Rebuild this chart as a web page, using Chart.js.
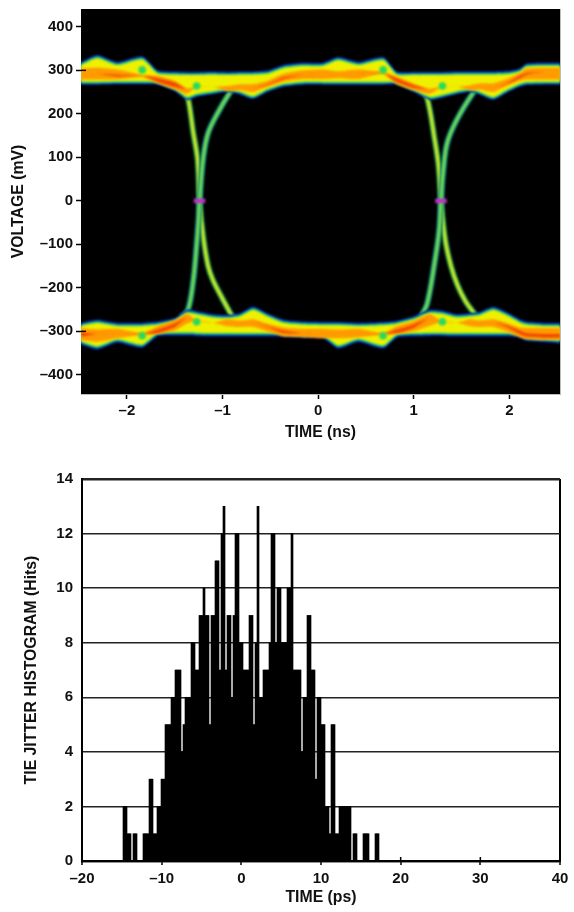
<!DOCTYPE html>
<html><head><meta charset="utf-8">
<style>html,body{margin:0;padding:0;background:#fff}canvas{position:absolute;left:0;display:block}</style>
<script src="https://cdn.jsdelivr.net/npm/chart.js@4/dist/chart.umd.min.js"></script>
</head><body>
<canvas id="eye" width="574" height="450" style="top:0"></canvas>
<canvas id="hist" width="574" height="462" style="top:450px"></canvas>
<script>
const voltageTicks=[-400,-300,-200,-100,0,100,200,300,400];
const timeNsTicks=[-2,-1,0,1,2];
const timePsTicks=[-20,-10,0,10,20,30,40];
const hitsTicks=[0,2,4,6,8,10,12,14];

const eyeT=[-2.48,-2.31,-2.1,-1.84,-1.68,-1.5,-1.37,-1.27,-1.1,-.95,-.81,-.68,-.53,-.36,-.15,.05,.21,.42,.68,.82,1.0,1.17,1.3,1.45,1.59,1.69,1.83,1.97,2.11,2.18,2.35,2.53];
const topBlueHi=[320,336,320,333,301,298,297,297,298,297,298,298,300,313,318,318,331,320,331,298,297,297,297,298,298,298,298,299,305,316,318,318];
const topBlueLo=[267,267,268,268,267,252,232,239,245,250,244,234,250,262,267,267,267,267,267,267,250,232,237,245,250,244,232,248,262,266,267,267];
const topGreenHi=[316,332,316,329,297,294,293,293,294,293,294,294,296,309,314,314,327,316,327,294,293,293,293,294,294,294,294,295,301,312,314,314];
const topGreenLo=[270,270,271,271,270,255,235,242,248,253,247,237,253,265,270,270,270,270,270,270,253,235,240,248,253,247,235,251,265,269,270,270];
const topYellowHi=[312,328,312,325,293,290,289,289,290,289,290,290,292,305,310,310,323,312,323,290,289,289,289,290,290,290,290,291,297,308,310,310];
const topYellowLo=[274,274,275,275,274,259,239,246,252,257,251,241,257,269,274,274,274,274,274,274,257,239,244,252,257,251,239,255,269,273,274,274];
const topOrangeHi=[304,306,302,290,287,276,258,262,262,264,268,268,276,292,300,302,298,302,296,286,270,258,262,262,266,270,270,280,294,304,306,306];
const topOrangeLo=[279,279,279,284,270,256,246,262,262,252,254,250,262,274,280,280,282,280,292,268,254,246,262,262,254,256,250,264,276,279,279,279];
const topRedHi=[294,292,290,288,282,272,256,262,262,262,262,260,268,284,290,292,290,292,292,282,266,256,262,262,262,262,260,270,288,294,296,296];
const topRedLo=[294,292,286,288,274,262,256,262,262,262,262,260,266,280,290,292,290,292,292,274,260,256,262,262,262,262,260,268,282,290,296,296];
const botBlueHi=[-280,-273,-280,-280,-277,-269,-250,-253,-260,-262,-257,-243,-258,-273,-277,-278,-278,-280,-278,-275,-265,-250,-252,-260,-258,-255,-243,-255,-272,-277,-280,-280];
const botBlueLo=[-331,-342,-326,-338,-312,-310,-310,-311,-312,-312,-312,-312,-312,-313,-315,-316,-340,-325,-340,-315,-312,-311,-311,-312,-312,-312,-312,-312,-315,-322,-325,-328];
const botGreenHi=[-284,-277,-284,-284,-281,-273,-254,-257,-264,-266,-261,-247,-262,-277,-281,-282,-282,-284,-282,-279,-269,-254,-256,-264,-262,-259,-247,-259,-276,-281,-284,-284];
const botGreenLo=[-327,-338,-322,-334,-308,-306,-306,-307,-308,-308,-308,-308,-308,-309,-311,-312,-336,-321,-336,-311,-308,-307,-307,-308,-308,-308,-308,-308,-311,-318,-321,-324];
const botYellowHi=[-288,-281,-288,-288,-285,-277,-258,-261,-268,-270,-265,-251,-266,-281,-285,-286,-286,-288,-286,-283,-273,-258,-260,-268,-266,-263,-251,-263,-280,-285,-288,-288];
const botYellowLo=[-323,-334,-318,-330,-304,-302,-302,-303,-304,-304,-304,-304,-304,-305,-307,-308,-332,-317,-332,-307,-304,-303,-303,-304,-304,-304,-304,-304,-307,-314,-317,-320];
const botOrangeHi=[-292,-295,-294,-304,-288,-274,-260,-275,-280,-272,-275,-272,-282,-291,-294,-294,-296,-294,-304,-288,-276,-260,-278,-280,-272,-275,-272,-280,-291,-292,-292,-292];
const botOrangeLo=[-320,-324,-316,-308,-306,-298,-282,-275,-280,-288,-290,-290,-300,-312,-314,-316,-316,-314,-308,-306,-300,-287,-278,-280,-288,-290,-290,-300,-314,-318,-320,-320];
const botRedHi=[-302,-306,-304,-306,-296,-282,-268,-275,-280,-280,-280,-280,-288,-298,-304,-304,-306,-304,-306,-296,-284,-270,-278,-280,-280,-280,-280,-286,-298,-304,-306,-306];
const botRedLo=[-312,-306,-304,-306,-304,-290,-268,-275,-280,-280,-280,-280,-290,-304,-304,-304,-306,-304,-306,-304,-292,-270,-278,-280,-280,-280,-280,-290,-306,-312,-314,-314];

const fall1T=[-1.43,-1.37,-1.305,-1.26,-1.24,-1.2,-1.15,-1.1,-1.0,-.92,-.87];
const fall1V=[262,245,156,94,0,-85,-150,-182,-225,-257,-275];
const rise1T=[-1.43,-1.36,-1.305,-1.27,-1.25,-1.24,-1.2,-1.15,-1.05,-.92,-.85];
const rise1V=[-268,-250,-182,-100,-40,0,101,156,202,250,268];
const fall2T=[1.07,1.14,1.22,1.26,1.285,1.33,1.39,1.46,1.54,1.62,1.68];
const fall2V=[260,237,140,80,0,-90,-150,-195,-230,-255,-272];
const rise2T=[1.07,1.14,1.22,1.265,1.285,1.31,1.35,1.45,1.62,1.7];
const rise2V=[-268,-237,-140,-70,0,71,133,186,248,268];
const crossingT=[-1.3,-1.18,1.225,1.345];
const crossingV=[0,0,0,0];
const spotT=[-1.84,-1.27,.68,1.3,-1.84,-1.27,.68,1.3];
const spotV=[301,264,301,264,-310,-278,-310,-278];
const innerTickV=[300,-300];

const histStart=-14.853;
const histStep=0.25105;
const histHits=[2,2,1,1,0,1,1,0,0,0,1,1,1,3,3,1,1,2,2,3,3,5,5,5,6,6,7,7,7,4,5,6,6,6,8,8,7,7,9,9,10,9,9,5,9,9,11,11,7,12,13,7,9,9,6,9,12,12,8,8,7,7,7,9,
9,5,8,13,6,6,7,7,7,8,12,12,8,10,10,8,8,8,10,10,12,7,7,7,7,4,6,6,9,9,7,7,3,6,6,5,5,2,2,1,5,5,1,1,2,2,2,2,2,2,0,1,1,0,0,0,1,1,1,0,0,0,1,1];

const FONT='"Liberation Sans",Arial,sans-serif';
const tickFont={family:FONT,size:15,weight:'bold'};
const titleFont={family:FONT,size:15.8,weight:'bold'};
const fmt=v=>String(v).replace('-','\u2013');
const zip=(a,b)=>a.map((x,i)=>({x,y:b[i]}));

const eyeSets=[];
function band(hi,lo,color){
  const base={pointRadius:0,borderWidth:0,tension:0.2,borderColor:color,backgroundColor:color};
  eyeSets.push({...base,data:zip(eyeT,hi),fill:'+1'});
  eyeSets.push({...base,data:zip(eyeT,lo),fill:false});
}
function curve(t,v,wide,thin){
  eyeSets.push({data:zip(t,v),pointRadius:0,borderWidth:6,borderColor:wide,tension:0.35,fill:false});
  eyeSets.push({data:zip(t,v),pointRadius:0,borderWidth:3,borderColor:thin,tension:0.35,fill:false});
}
curve(fall1T,fall1V,'#1f8a50','#d8f020');
curve(rise1T,rise1V,'#0f7f78','#78e050');
curve(fall2T,fall2V,'#1f8a50','#d8f020');
curve(rise2T,rise2V,'#0f7f78','#78e050');
band(topBlueHi,topBlueLo,'#0a2aa8');
band(topGreenHi,topGreenLo,'#12c088');
band(topYellowHi,topYellowLo,'#eef000');
band(topOrangeHi,topOrangeLo,'#ff9a00');
band(topRedHi,topRedLo,'#f04800');
band(botBlueHi,botBlueLo,'#0a2aa8');
band(botGreenHi,botGreenLo,'#12c088');
band(botYellowHi,botYellowLo,'#eef000');
band(botOrangeHi,botOrangeLo,'#ff9a00');
band(botRedHi,botRedLo,'#f04800');
eyeSets.push({data:zip(spotT,spotV),showLine:false,pointRadius:3.8,pointBorderWidth:0,pointBackgroundColor:'#2ad860',fill:false});
eyeSets.push({data:zip(crossingT.slice(0,2),crossingV.slice(0,2)),pointRadius:0,borderWidth:4.5,borderColor:'#c030c8',fill:false});
eyeSets.push({data:zip(crossingT.slice(2),crossingV.slice(2)),pointRadius:0,borderWidth:4.5,borderColor:'#c030c8',fill:false});
eyeSets.forEach((d,i)=>{d.order=-i;});

const eyePlugin={id:'eyeBg',
  beforeDraw(c){const a=c.chartArea,x=c.ctx;x.save();x.fillStyle='#000';x.fillRect(a.left,a.top,a.width,a.height);
    x.strokeStyle='#bdbdbd';x.lineWidth=1;x.beginPath();x.moveTo(a.right+.5,a.top);x.lineTo(a.right+.5,a.bottom+.5);x.stroke();x.restore();},
  beforeDatasetsDraw(c){c.ctx.save();c.ctx.filter='blur(1.1px)';},
  afterDatasetsDraw(c){c.ctx.restore();const x=c.ctx,s=c.scales.y,l=c.chartArea.left;x.save();x.strokeStyle='#000';x.lineWidth=1.5;
    innerTickV.forEach(v=>{const p=s.getPixelForValue(v);x.beginPath();x.moveTo(l,p);x.lineTo(l+5,p);x.stroke();});x.restore();}
};
const histPlugin={id:'innerTicks',afterDatasetsDraw(c){const x=c.ctx,s=c.scales.x,b=c.chartArea.bottom;x.save();x.strokeStyle='#000';x.lineWidth=1.5;
    timePsTicks.slice(1,-1).forEach(v=>{const p=s.getPixelForValue(v);x.beginPath();x.moveTo(p,b);x.lineTo(p,b-4);x.stroke();});x.restore();}};

new Chart(document.getElementById('eye'),{type:'line',data:{datasets:eyeSets},plugins:[eyePlugin],options:{
  responsive:false,animation:false,
  layout:{padding:{top:9,right:14,left:0,bottom:0}},
  plugins:{legend:{display:false},tooltip:{enabled:false}},
  scales:{
    x:{type:'linear',min:-2.48,max:2.53,
      afterBuildTicks(s){s.ticks=timeNsTicks.map(v=>({value:v}));},
      afterFit(s){s.height=56;},
      grid:{drawOnChartArea:false,tickLength:5,tickColor:'#000',tickWidth:1.5},
      border:{color:'#bdbdbd',width:1},
      ticks:{font:tickFont,color:'#111',padding:3,maxRotation:0,autoSkip:false,callback:fmt},
      title:{display:true,text:'TIME (ns)',font:titleFont,color:'#111',padding:{top:0,bottom:8}}},
    y:{type:'linear',min:-444,max:441,
      afterBuildTicks(s){s.ticks=voltageTicks.map(v=>({value:v}));},
      afterFit(s){s.width=81;s.paddingTop=0;s.paddingBottom=0;},
      grid:{drawOnChartArea:false,tickLength:5,tickColor:'#000',tickWidth:1.5},
      border:{display:false},
      ticks:{font:tickFont,color:'#111',padding:3,autoSkip:false,callback:fmt},
      title:{display:true,text:'VOLTAGE (mV)',font:titleFont,color:'#111',padding:{top:9,bottom:0}}}
  }}});

new Chart(document.getElementById('hist'),{type:'bar',plugins:[histPlugin],
  data:{datasets:[{
    data:histHits.map((h,i)=>({x:histStart+histStep*(i+.5),y:h})),
    backgroundColor:'#000',borderWidth:0,barPercentage:1,categoryPercentage:1}]},
  options:{responsive:false,animation:false,
  layout:{padding:{top:29,right:14,left:0,bottom:0}},
  plugins:{legend:{display:false},tooltip:{enabled:false}},
  scales:{
    x:{type:'linear',min:-20,max:40,offset:false,
      afterBuildTicks(s){s.ticks=timePsTicks.map(v=>({value:v}));},
      afterFit(s){s.height=51;},
      grid:{offset:false,tickLength:4,tickColor:'#000',tickWidth:1.5,lineWidth:2,color:c=>(c.tick&&(c.tick.value===-20||c.tick.value===40))?'#000':'rgba(0,0,0,0)'},
      border:{display:true,color:'#000',width:2},
      ticks:{font:tickFont,color:'#111',padding:5,maxRotation:0,autoSkip:false,callback:fmt},
      title:{display:true,text:'TIME (ps)',font:titleFont,color:'#111',padding:{top:0,bottom:5}}},
    y:{type:'linear',min:0,max:14,
      afterBuildTicks(s){s.ticks=hitsTicks.map(v=>({value:v}));},
      afterFit(s){s.width=82;},
      grid:{drawTicks:false,tickLength:0,color:'#222',lineWidth:c=>(c.tick&&(c.tick.value===14||c.tick.value===0))?2.5:1.5},
      border:{display:true,color:'#000',width:2},
      ticks:{font:tickFont,color:'#111',padding:9,autoSkip:false,callback:fmt},
      title:{display:true,text:'TIE JITTER HISTOGRAM (Hits)',font:titleFont,color:'#111',padding:{top:22,bottom:0}}}
  }}});
</script></body></html>
